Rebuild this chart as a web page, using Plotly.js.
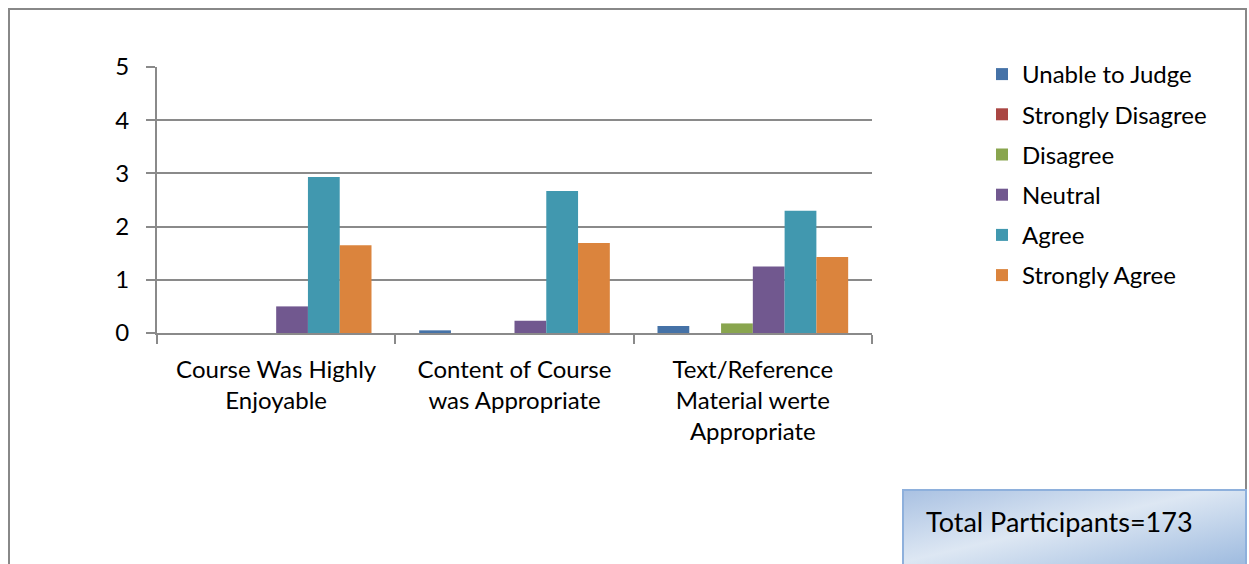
<!DOCTYPE html>
<html><head><meta charset="utf-8">
<script src="https://cdn.plot.ly/plotly-3.0.1.min.js"></script>
<style>html,body{margin:0;padding:0;background:#fff}#chart{width:1249px;height:564px}</style>
</head><body><div id="chart"></div>
<script>
const categories = ["Course Was Highly<br>Enjoyable", "Content of Course<br>was Appropriate", "Text/Reference<br>Material werte<br>Appropriate"];
const seriesNames = ["Unable to Judge", "Strongly Disagree", "Disagree", "Neutral", "Agree", "Strongly Agree"];
const unableToJudge = [0, 0.05, 0.13];
const stronglyDisagree = [0, 0, 0];
const disagree = [0, 0, 0.18];
const neutral = [0.5, 0.23, 1.25];
const agree = [2.93, 2.67, 2.30];
const stronglyAgree = [1.65, 1.69, 1.43];
const yTicks = [0, 1, 2, 3, 4, 5];
const note = "Total Participants=173";

const colors = ["#4572A7", "#AA4643", "#89A54E", "#71588F", "#4198AF", "#DB843D"];
const seriesValues = [unableToJudge, stronglyDisagree, disagree, neutral, agree, stronglyAgree];
const FONT = "Lato, 'Open Sans', sans-serif";
const FS = 24;

const traces = seriesNames.map((n, i) => ({
  type: "bar", name: n, x: categories, y: seriesValues[i],
  marker: {color: colors[i], line: {width: 0}},
  legendgroup: "g" + i, hoverinfo: "y+name"
}));

const L = 157, R = 872, T = 67, B = 333;
const W = R - L, H = B - T;
const px = v => (v - L) / W;
const py = v => (B - v) / H;

const gradSvg = '<svg xmlns="http://www.w3.org/2000/svg" width="344" height="80" preserveAspectRatio="none">' +
  '<defs><linearGradient id="g" x1="0" y1="0" x2="1" y2="1">' +
  '<stop offset="0" stop-color="#a9c1e2"/><stop offset="0.45" stop-color="#dde7f3"/><stop offset="1" stop-color="#9ab8de"/>' +
  '</linearGradient></defs><rect width="344" height="80" fill="url(#g)"/></svg>';
const gradUri = "data:image/svg+xml;base64," + btoa(gradSvg);

const layout = {
  width: 1249, height: 564,
  margin: {l: L, r: 1249 - R, t: T, b: 564 - B, pad: 0},
  paper_bgcolor: "#ffffff", plot_bgcolor: "#ffffff",
  font: {family: FONT, size: FS, color: "#000"},
  barmode: "group", bargap: 0.2, bargroupgap: 0,
  showlegend: true,
  legend: {x: px(982), y: py(52), xanchor: "left", yanchor: "top",
    font: {family: FONT, size: FS, color: "#000"}, tracegroupgap: 6,
    bgcolor: "rgba(0,0,0,0)", traceorder: "grouped"},
  xaxis: {type: "category", showgrid: false, showline: true, linecolor: "#8a8a8a", linewidth: 2,
    ticks: "outside", tickson: "boundaries", ticklen: 9, tickcolor: "#8a8a8a", tickwidth: 2,
    ticklabelstandoff: 14,
    tickfont: {family: FONT, size: FS, color: "#000"}, fixedrange: true},
  yaxis: {range: [0, 5], tickvals: yTicks, showgrid: true, gridcolor: "#8a8a8a", gridwidth: 2,
    showline: true, linecolor: "#8a8a8a", linewidth: 2, ticks: "outside", ticklen: 9,
    tickcolor: "#8a8a8a", tickwidth: 2, zeroline: false, ticklabelstandoff: 12,
    tickfont: {family: FONT, size: FS, color: "#000"}, fixedrange: true},
  shapes: [
    {type: "rect", xref: "paper", yref: "paper", x0: px(9), x1: px(1246), y0: py(580), y1: py(9),
     line: {color: "#888888", width: 2}, fillcolor: "rgba(0,0,0,0)", layer: "below"},
    {type: "rect", xref: "paper", yref: "paper", x0: px(903), x1: px(1246), y0: py(580), y1: py(490),
     line: {color: "#8eb0dc", width: 2}, fillcolor: "rgba(0,0,0,0)", layer: "above"}
  ],
  images: [
    {source: gradUri, xref: "paper", yref: "paper", x: px(903), y: py(490), sizex: 343 / W, sizey: 80 / H,
     xanchor: "left", yanchor: "top", sizing: "stretch", layer: "above"}
  ],
  annotations: [
    {text: note, xref: "paper", yref: "paper", x: px(924), y: py(521), xanchor: "left", yanchor: "middle",
     showarrow: false, font: {family: FONT, size: 27, color: "#000"}}
  ]
};

Plotly.newPlot("chart", traces, layout, {displayModeBar: false, staticPlot: true});
</script></body></html>
